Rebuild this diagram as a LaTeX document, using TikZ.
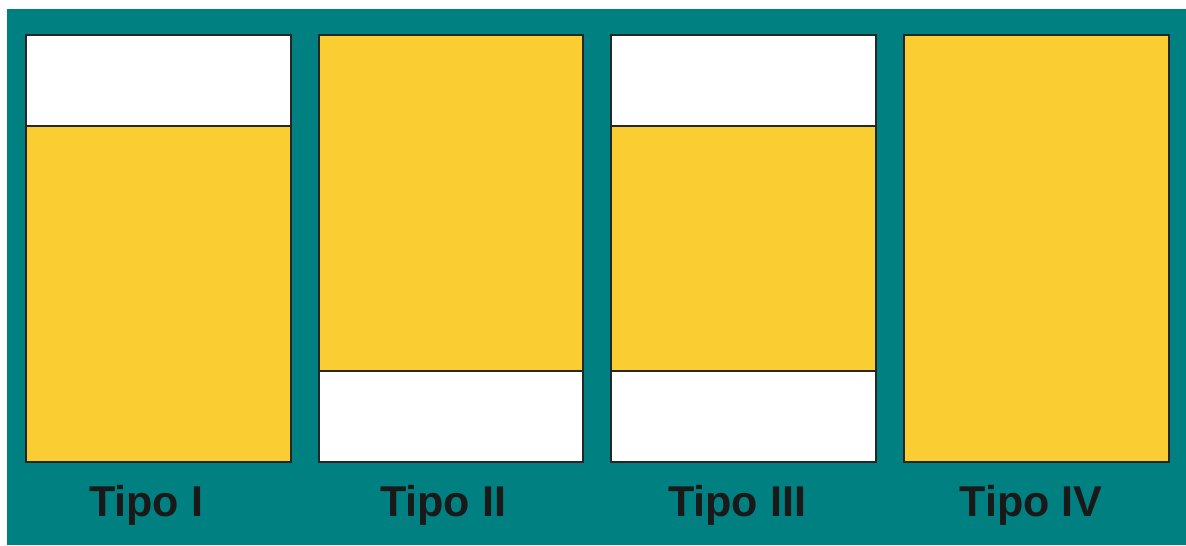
\documentclass[tikz,border=0pt]{standalone}
\usepackage{fontspec}
\setmainfont{Liberation Sans}[BoldFont={Liberation Sans Bold}]
\usetikzlibrary{positioning}
\definecolor{tealbg}{RGB}{0,128,128}
\definecolor{fillyellow}{RGB}{250,205,50}
\tikzset{
    backdrop/.style={fill=tealbg,draw=none},
    panel/.style={draw=black!85,line width=1.1pt},
    fullpart/.style={fill=fillyellow},
    emptypart/.style={fill=white},
    tipolabel/.style={font=\bfseries\fontsize{24.5}{28}\selectfont,anchor=base,inner sep=0pt,text=black!90}
}

\begin{document}
\begin{tikzpicture}[x=0.02cm,y=-0.02cm]
    % Frame and background
    \useasboundingbox (0,0) rectangle (1186,545);
    \fill[white] (0,0) rectangle (1186,545);
    \fill[backdrop] (7,9) rectangle (1186,545);
    % Tipo I
    \draw[panel,emptypart] (26,35) rectangle (291,126);
    \draw[panel,fullpart] (26,126) rectangle (291,462);
    % Tipo II
    \draw[panel,fullpart] (319,35) rectangle (583,371);
    \draw[panel,emptypart] (319,371) rectangle (583,462);
    % Tipo III
    \draw[panel,emptypart] (611,35) rectangle (876,126);
    \draw[panel,fullpart] (611,126) rectangle (876,371);
    \draw[panel,emptypart] (611,371) rectangle (876,462);
    % Tipo IV
    \draw[panel,fullpart] (904,35) rectangle (1169,462);
    % Labels
    \node[tipolabel] (tipoI) at (146,516) {Tipo I};
    \node[tipolabel] (tipoII) at (443,516) {Tipo II};
    \node[tipolabel] (tipoIII) at (737,516) {Tipo III};
    \node[tipolabel] (tipoIV) at (1031,516) {Tipo IV};
\end{tikzpicture}
\end{document}
